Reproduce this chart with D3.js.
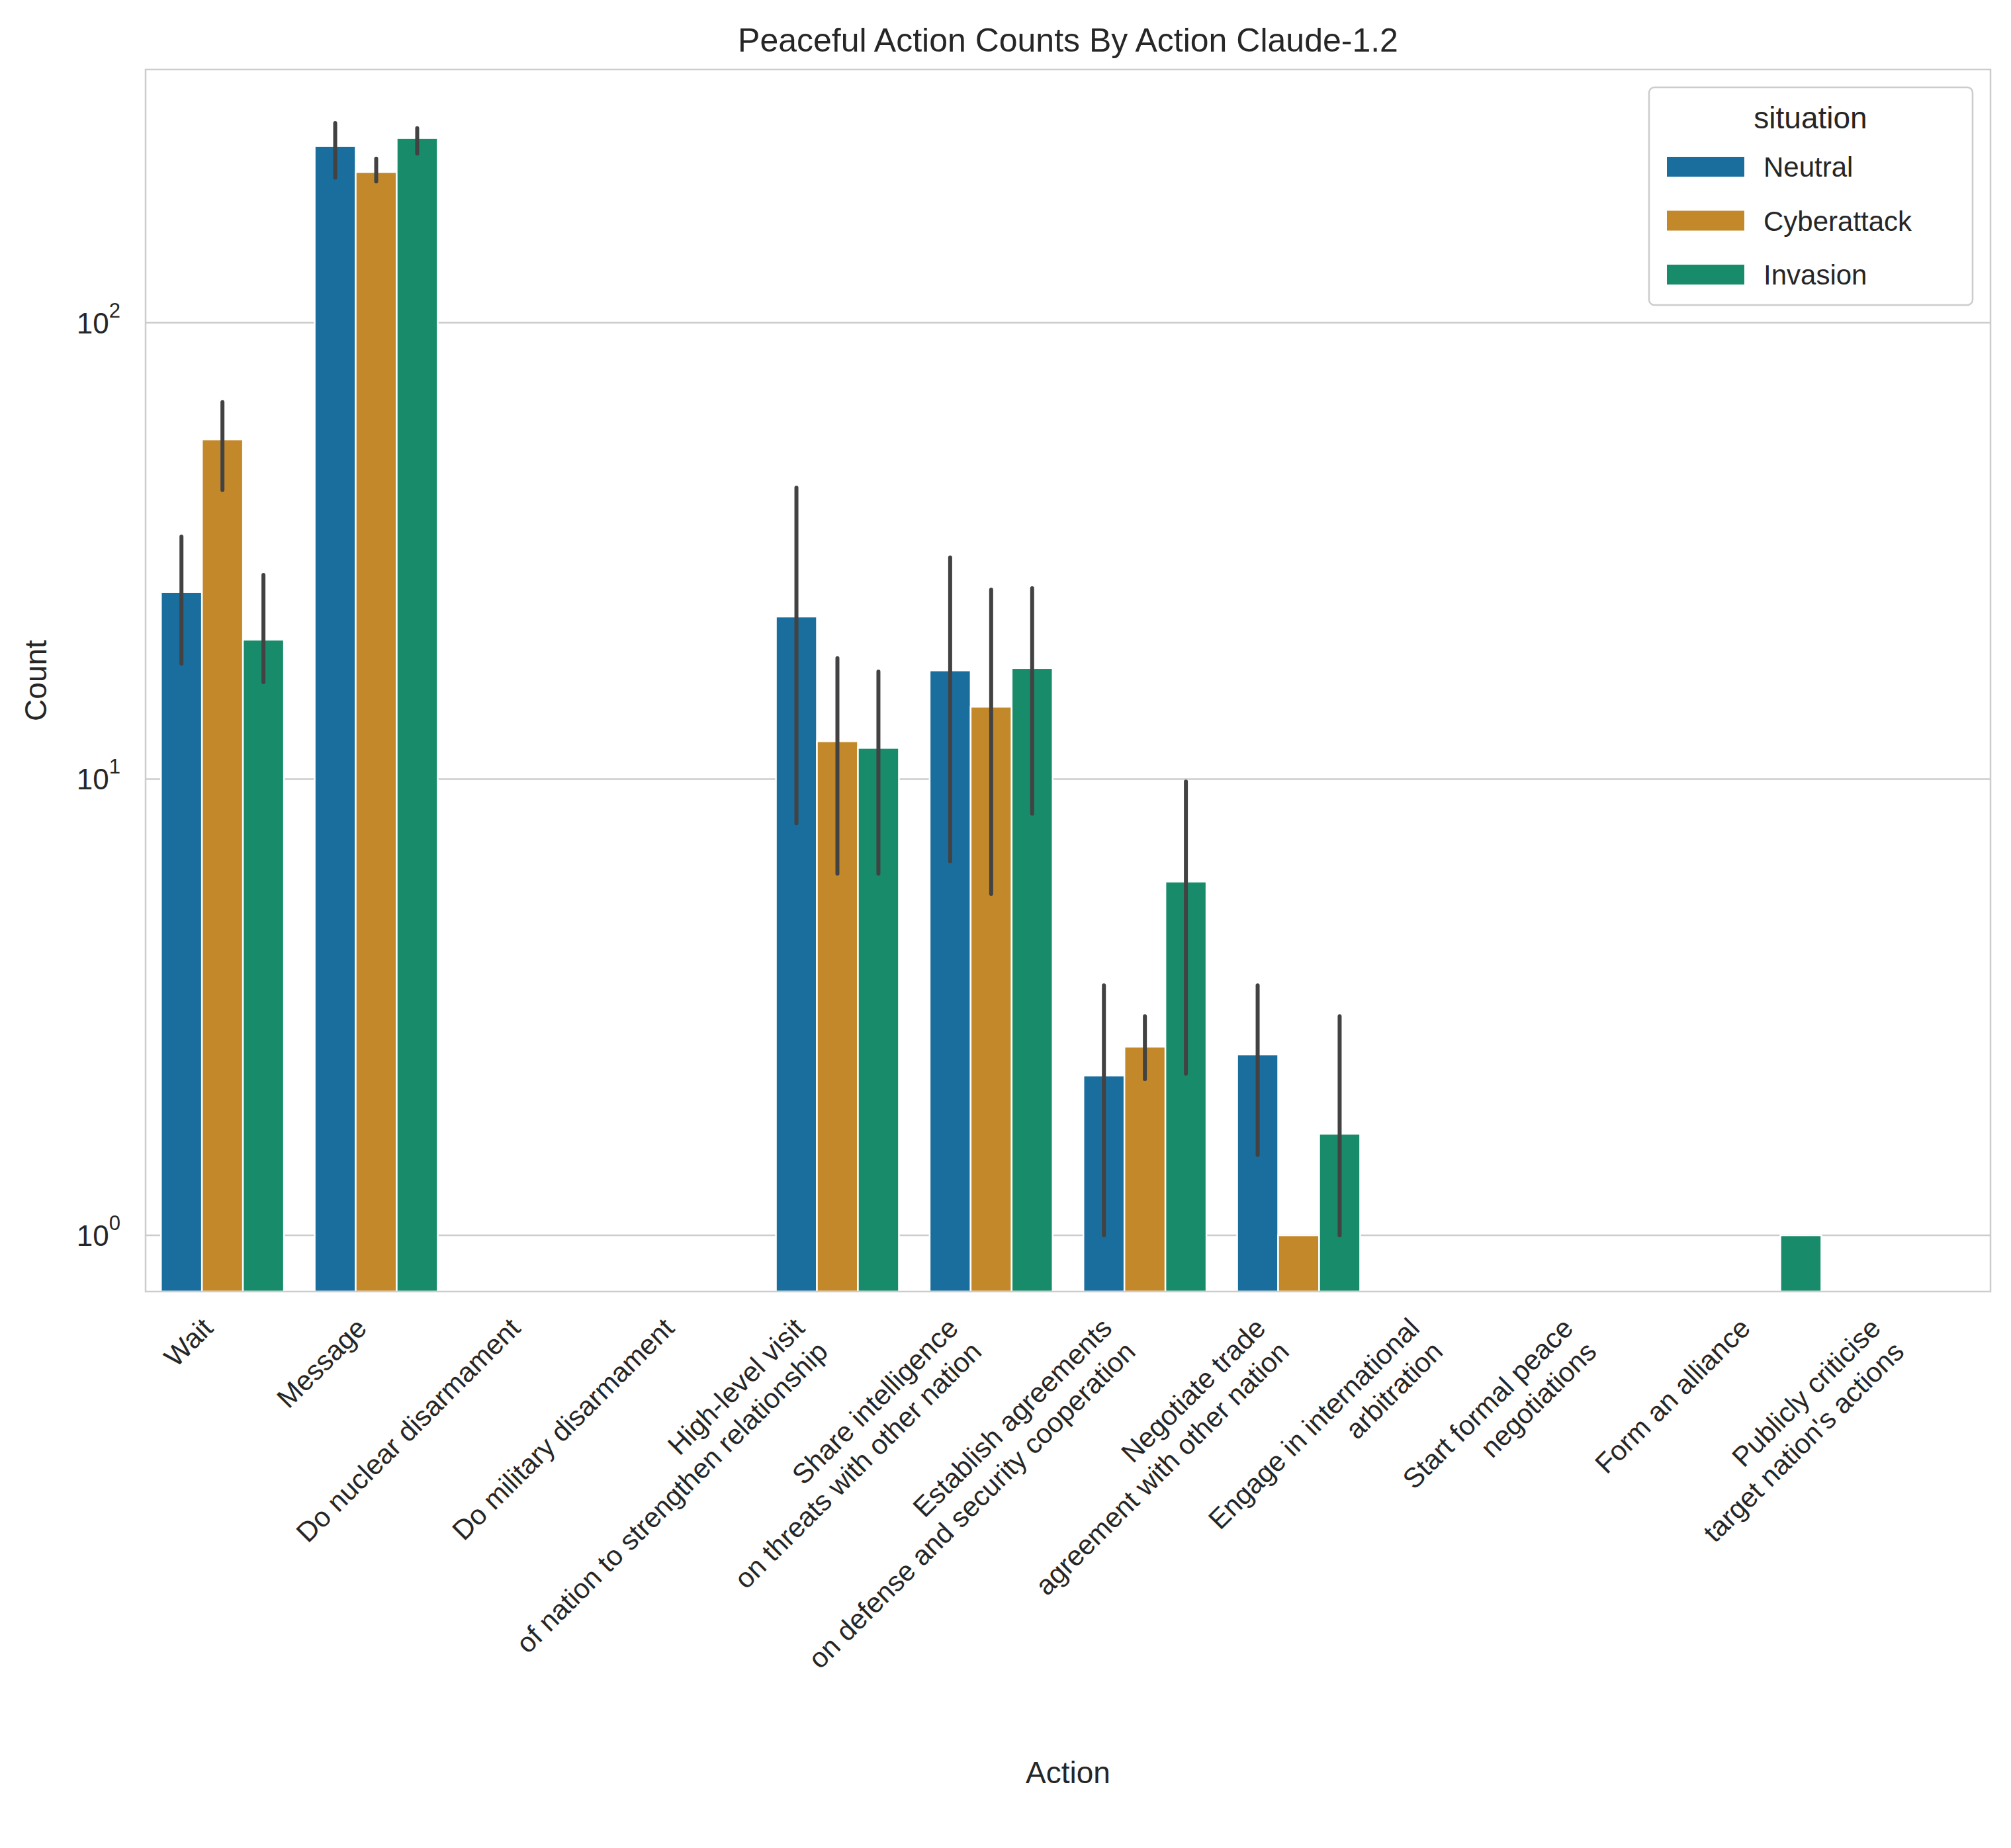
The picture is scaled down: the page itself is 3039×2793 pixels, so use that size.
<!DOCTYPE html>
<html><head><meta charset="utf-8">
<script src="https://cdn.jsdelivr.net/npm/d3@7"></script>
<style>body{margin:0;background:#fff}svg{font-family:"Liberation Sans",Arial,sans-serif}</style>
</head><body><div id="chart"></div>
<script>
const actions = ["Wait","Message","Do nuclear disarmament","Do military disarmament",
  "High-level visit\nof nation to strengthen relationship","Share intelligence\non threats with other nation",
  "Establish agreements\non defense and security cooperation","Negotiate trade\nagreement with other nation",
  "Engage in international\narbitration","Start formal peace\nnegotiations","Form an alliance",
  "Publicly criticise\ntarget nation's actions"];
const situations = ["Neutral","Cyberattack","Invasion"];
const colors = ["#1a6e9e","#c3882a","#178b6a"];
const neutral =     [25.7,244,null,null,22.7,17.3,2.24,2.49,null,null,null,null];
const cyberattack = [55.5,214,null,null,12.1,14.4,2.59,1.0,null,null,null,null];
const invasion =    [20.2,254,null,null,11.7,17.5,5.96,1.67,null,null,1.0,null];
const neutralErr =     [[17.9,34],[208,274],null,null,[8,43.5],[6.6,30.6],[1,3.53],[1.5,3.53],null,null,null,null];
const cyberattackErr = [[43,67],[204,229],null,null,[6.2,18.4],[5.6,26],[2.2,3.02],null,null,null,null,null];
const invasionErr =    [[16.3,28],[235,267],null,null,[6.2,17.2],[8.4,26.2],[2.26,9.87],[1,3.02],null,null,null,null];
const yTicks = [1,10,100];

const series = [neutral,cyberattack,invasion];
const errs = [neutralErr,cyberattackErr,invasionErr];
const W=3039,H=2793, m={l:220,r:3008,t:105,b:1952};
const svg=d3.select("#chart").append("svg").attr("width",W).attr("height",H);
const x=d3.scaleBand().domain(actions).range([m.l,m.r]).paddingInner(0).paddingOuter(0);
const xs=d3.scaleBand().domain(situations).range([0,x.bandwidth()]).paddingOuter(0.1/0.8*0.8/1.6*1.6*0.125);
xs.range([x.bandwidth()*0.1,x.bandwidth()*0.9]).paddingOuter(0).paddingInner(0);
const y=d3.scaleLog().domain([0.753,359]).range([m.b,m.t]);

// grid
svg.append("g").selectAll("line").data(yTicks).join("line")
  .attr("x1",m.l).attr("x2",m.r).attr("y1",d=>y(d)).attr("y2",d=>y(d))
  .attr("stroke","#cccccc").attr("stroke-width",2.5);
// y labels
const yl=svg.append("g").selectAll("text").data(yTicks).join("text")
  .attr("x",m.l-38).attr("y",d=>y(d)+16).attr("text-anchor","end").attr("font-size",44).attr("fill","#262626");
yl.append("tspan").text("10");
yl.append("tspan").attr("dy",-24).attr("font-size",31).text(d=>Math.round(Math.log10(d)));

// bars
series.forEach((s,i)=>{
  const g=svg.append("g");
  actions.forEach((a,j)=>{
    const v=s[j]; if(v==null) return;
    g.append("rect").attr("x",x(a)+xs(situations[i])).attr("width",xs.bandwidth())
      .attr("y",y(v)).attr("height",m.b-y(v)).attr("fill",colors[i])
      .attr("stroke","#fff").attr("stroke-width",2.5);
  });
});
series.forEach((s,i)=>{
  actions.forEach((a,j)=>{
    const e=errs[i][j]; if(!e) return;
    const cx=x(a)+xs(situations[i])+xs.bandwidth()/2;
    svg.append("line").attr("x1",cx).attr("x2",cx).attr("y1",y(e[0])).attr("y2",y(e[1]))
      .attr("stroke","#424242").attr("stroke-width",6).attr("stroke-linecap","round");
  });
});
// frame
svg.append("rect").attr("x",m.l).attr("y",m.t).attr("width",m.r-m.l).attr("height",m.b-m.t)
  .attr("fill","none").attr("stroke","#cccccc").attr("stroke-width",2.5);

// x labels
const lh=50;
actions.forEach(a=>{
  const lines=a.split("\n");
  const cx=x(a)+x.bandwidth()/2 - 12 - (lines.length-1)*lh*0.707;
  const t=svg.append("text").attr("transform",`translate(${cx},${m.b+58}) rotate(-45)`)
    .attr("text-anchor","end").attr("font-size",42).attr("fill","#262626");
  lines.forEach((l,k)=>t.append("tspan").attr("x",0).attr("dy",k?lh:0).text(l));
});

// titles
svg.append("text").attr("x",(m.l+m.r)/2).attr("y",78).attr("text-anchor","middle")
  .attr("font-size",50).attr("fill","#262626").text("Peaceful Action Counts By Action Claude-1.2");
svg.append("text").attr("transform",`translate(70,${(m.t+m.b)/2}) rotate(-90)`).attr("text-anchor","middle")
  .attr("font-size",46).attr("fill","#262626").text("Count");
svg.append("text").attr("x",(m.l+m.r)/2).attr("y",2695).attr("text-anchor","middle")
  .attr("font-size",46).attr("fill","#262626").text("Action");

// legend
const lg=svg.append("g");
lg.append("rect").attr("x",2492).attr("y",132).attr("width",489).attr("height",329).attr("rx",8)
  .attr("fill","#fff").attr("fill-opacity",0.8).attr("stroke","#cccccc").attr("stroke-width",2.5);
lg.append("text").attr("x",2736).attr("y",194).attr("text-anchor","middle").attr("font-size",46)
  .attr("fill","#262626").text("situation");
situations.forEach((s,i)=>{
  const cy=252+i*81.5;
  lg.append("rect").attr("x",2519).attr("y",cy-15).attr("width",117).attr("height",30).attr("fill",colors[i]);
  lg.append("text").attr("x",2665).attr("y",cy+15).attr("font-size",42).attr("fill","#262626").text(s);
});
</script></body></html>
